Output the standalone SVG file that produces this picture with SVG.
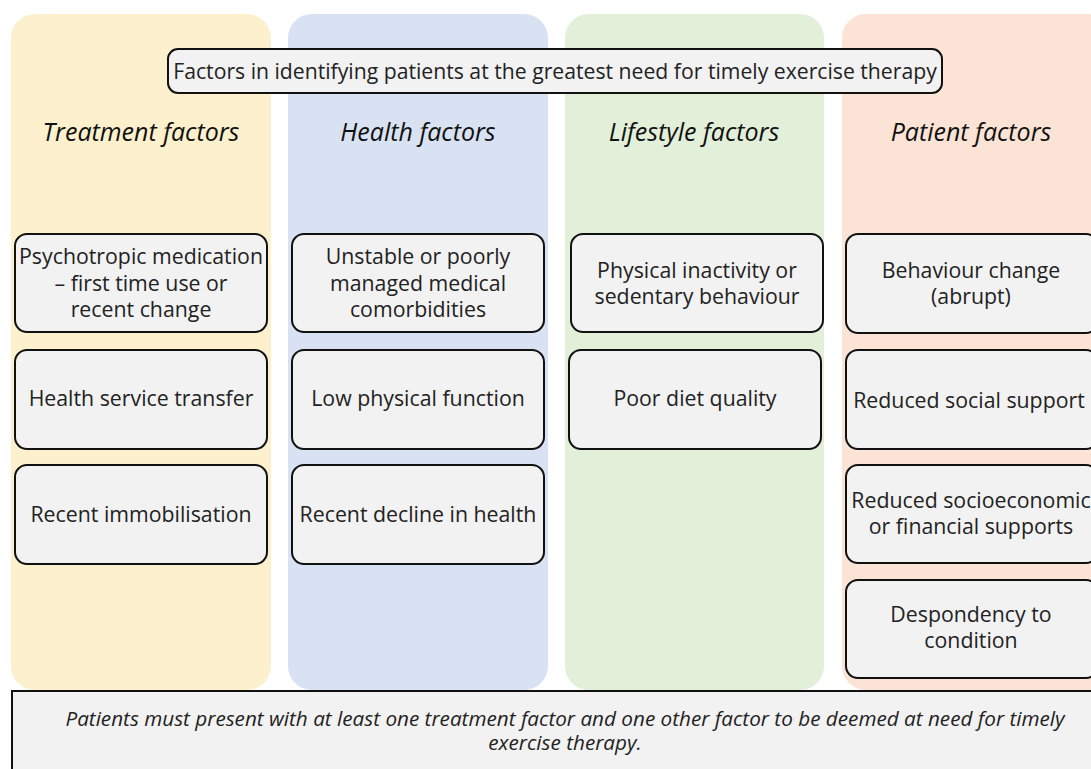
<svg xmlns="http://www.w3.org/2000/svg" width="1091" height="769" viewBox="0 0 1091 769">
  <style>
    .col { stroke: none; }
    .box { fill: #f2f2f2; stroke: #111; stroke-width: 2; }
    .t { font-family: "Open Sans", "Liberation Sans", sans-serif; font-size: 21.3px; fill: #222; text-anchor: middle; }
    .h { font-family: "Open Sans", "Liberation Sans", sans-serif; font-size: 25px; font-style: italic; fill: #111; text-anchor: middle; }
    .title { font-family: "Open Sans", "Liberation Sans", sans-serif; font-size: 21.2px; fill: #222; text-anchor: middle; }
    .note { font-family: "Open Sans", "Liberation Sans", sans-serif; font-size: 20.7px; font-style: italic; fill: #222; text-anchor: middle; }
  </style>
  <rect width="1091" height="769" fill="#ffffff"/>

  <!-- column backgrounds -->
  <g id="columns">
    <rect class="col" x="11" y="14" width="260" height="676" rx="24" fill="#fdf0cc"/>
    <rect class="col" x="288" y="14" width="260" height="676" rx="24" fill="#d9e2f3"/>
    <rect class="col" x="565" y="14" width="259" height="676" rx="24" fill="#e2efd9"/>
    <rect class="col" x="842" y="14" width="270" height="676" rx="24" fill="#fbe3d5"/>
  </g>

  <!-- header -->
  <g id="header">
    <rect class="box" x="168" y="49" width="774" height="44" rx="10"/>
    <text class="title" x="555" y="79">Factors in identifying patients at the greatest need for timely exercise therapy</text>
  </g>

  <!-- column headings -->
  <g id="headings">
    <text class="h" x="141" y="141">Treatment factors</text>
    <text class="h" x="418" y="141">Health factors</text>
    <text class="h" x="694" y="141">Lifestyle factors</text>
    <text class="h" x="971" y="141">Patient factors</text>
  </g>

  <!-- treatment factors -->
  <g id="treatment-1">
    <rect class="box" x="15" y="234" width="252" height="98" rx="12"/>
    <text class="t" x="141" y="264">Psychotropic medication</text>
    <text class="t" x="141" y="291">– first time use or</text>
    <text class="t" x="141" y="317">recent change</text>
  </g>
  <g id="treatment-2">
    <rect class="box" x="15" y="350" width="252" height="99" rx="12"/>
    <text class="t" x="141" y="406">Health service transfer</text>
  </g>
  <g id="treatment-3">
    <rect class="box" x="15" y="465" width="252" height="99" rx="12"/>
    <text class="t" x="141" y="522">Recent immobilisation</text>
  </g>

  <!-- health factors -->
  <g id="health-1">
    <rect class="box" x="292" y="234" width="252" height="98" rx="12"/>
    <text class="t" x="418" y="264">Unstable or poorly</text>
    <text class="t" x="418" y="291">managed medical</text>
    <text class="t" x="418" y="317">comorbidities</text>
  </g>
  <g id="health-2">
    <rect class="box" x="292" y="350" width="252" height="99" rx="12"/>
    <text class="t" x="418" y="406">Low physical function</text>
  </g>
  <g id="health-3">
    <rect class="box" x="292" y="465" width="252" height="99" rx="12"/>
    <text class="t" x="418" y="522">Recent decline in health</text>
  </g>

  <!-- lifestyle factors -->
  <g id="lifestyle-1">
    <rect class="box" x="571" y="234" width="252" height="98" rx="12"/>
    <text class="t" x="697" y="278">Physical inactivity or</text>
    <text class="t" x="697" y="304">sedentary behaviour</text>
  </g>
  <g id="lifestyle-2">
    <rect class="box" x="569" y="350" width="252" height="99" rx="12"/>
    <text class="t" x="695" y="406">Poor diet quality</text>
  </g>

  <!-- patient factors -->
  <g id="patient-1">
    <rect class="box" x="846" y="234" width="252" height="99" rx="12"/>
    <text class="t" x="971" y="278">Behaviour change</text>
    <text class="t" x="971" y="304">(abrupt)</text>
  </g>
  <g id="patient-2">
    <rect class="box" x="846" y="350" width="252" height="99" rx="12"/>
    <text class="t" x="969" y="408">Reduced social support</text>
  </g>
  <g id="patient-3">
    <rect class="box" x="846" y="465" width="252" height="98" rx="12"/>
    <text class="t" x="971" y="508">Reduced socioeconomic</text>
    <text class="t" x="971" y="534">or financial supports</text>
  </g>
  <g id="patient-4">
    <rect class="box" x="846" y="580" width="252" height="98" rx="12"/>
    <text class="t" x="971" y="622">Despondency to</text>
    <text class="t" x="971" y="648">condition</text>
  </g>

  <!-- criterion note -->
  <g id="note">
    <rect class="box" x="12" y="691" width="1090" height="90"/>
    <text class="note" x="565" y="726">Patients must present with at least one treatment factor and one other factor to be deemed at need for timely</text>
    <text class="note" x="565" y="750">exercise therapy.</text>
  </g>

  <g id="connectors"/>
</svg>
